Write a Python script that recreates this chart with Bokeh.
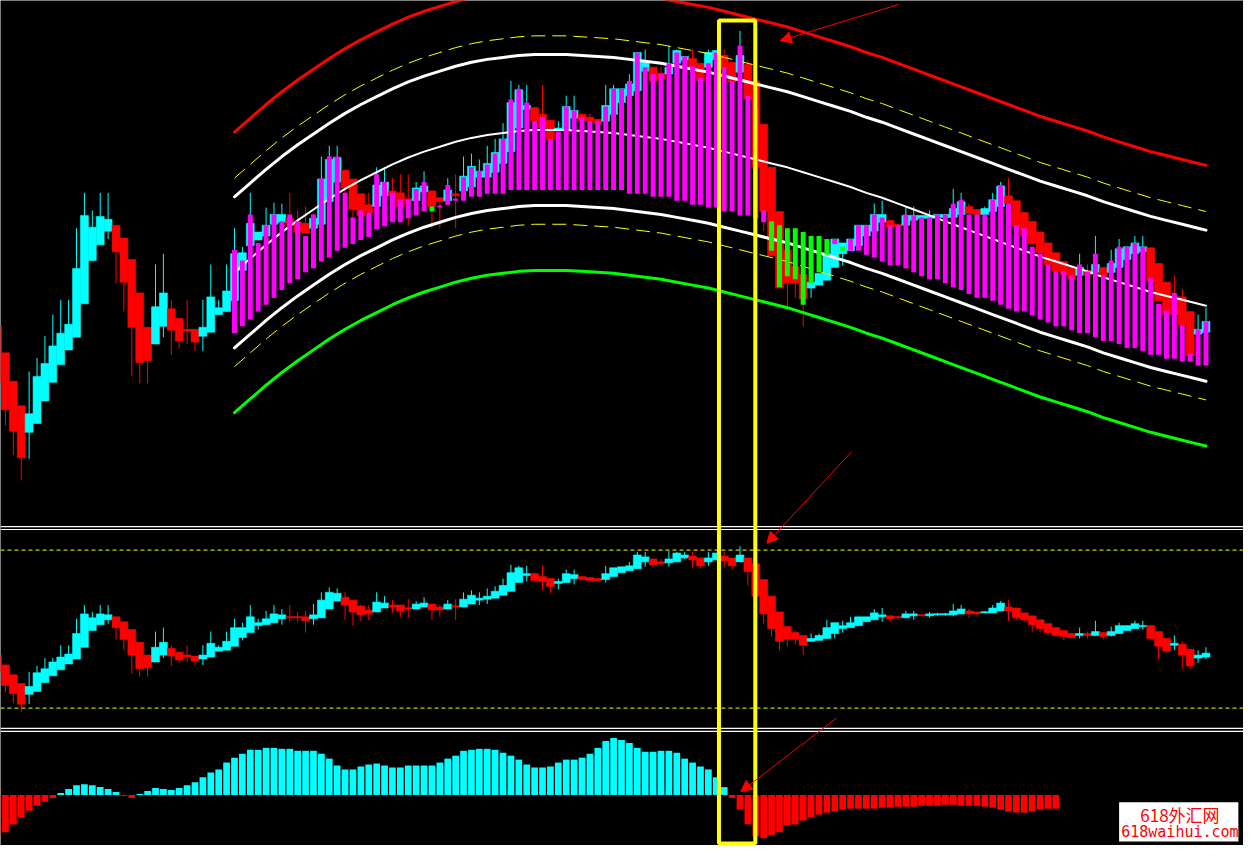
import numpy as np
from bokeh.plotting import figure
from bokeh.models import (Range1d, Span, BoxAnnotation, Arrow, NormalHead,
                          ColumnDataSource, Label)
from bokeh.embed import file_html
from bokeh.resources import INLINE

# ---------------- data ----------------
FIRST_BAR = -1

# Heiken-Ashi style candles of the price panel (bars -1 .. 152)
ha_open = [
    208, 181, 152, 127, 100, 109, 132, 151, 169, 184,
    197, 231, 275, 291, 305, 311, 298, 276, 242, 207,
    190, 208, 226, 216, 205, 205, 198, 202, 220, 223,
    234, 265, 290, 296, 300, 312, 314, 318, 314, 313,
    308, 312, 335, 355, 367, 358, 343, 332, 330, 341,
    346, 344, 338, 336, 345, 346, 339, 336, 343, 346,
    350, 360, 360, 365, 374, 386, 410, 429, 431, 424,
    418, 407, 407, 420, 424, 421, 419, 417, 424, 436,
    443, 448, 468, 472, 466, 465, 476, 479, 481, 476,
    472, 480, 484, 477, 467, 475, 458, 414, 370, 325,
    286, 269, 261, 247, 250, 255, 268, 282, 285, 290,
    300, 305, 314, 316, 312, 311, 316, 318, 318, 319,
    319, 319, 322, 330, 327, 322, 325, 330, 341, 336,
    324, 315, 304, 293, 283, 274, 268, 260, 265, 263,
    268, 263, 268, 276, 282, 284, 288, 272, 253, 237,
    238, 223, 200, 202]
ha_close = [
    151, 123, 101, 74, 119, 157, 170, 188, 201, 210,
    267, 321, 309, 320, 317, 284, 253, 207, 171, 173,
    228, 242, 204, 193, 203, 192, 207, 238, 227, 244,
    282, 283, 313, 304, 311, 322, 322, 311, 304, 303,
    318, 358, 378, 380, 349, 327, 321, 324, 352, 355,
    341, 330, 336, 349, 351, 330, 335, 347, 341, 361,
    371, 366, 374, 385, 399, 436, 449, 433, 417, 410,
    398, 410, 432, 428, 418, 417, 415, 433, 450, 450,
    455, 487, 477, 458, 460, 472, 489, 483, 470, 458,
    487, 489, 470, 457, 484, 440, 370, 325, 280, 247,
    252, 252, 236, 253, 262, 282, 297, 293, 297, 311,
    311, 322, 322, 309, 310, 321, 321, 321, 321, 322,
    322, 328, 335, 323, 322, 328, 337, 351, 333, 310,
    300, 292, 283, 271, 264, 261, 256, 268, 260, 271,
    259, 272, 287, 289, 293, 289, 254, 234, 220, 220,
    209, 178, 205, 213]
ha_high = [
    208, 181, 152, 127, 162, 176, 198, 220, 235, 235,
    308, 344, 326, 344, 344, 311, 298, 276, 242, 207,
    271, 282, 235, 216, 235, 205, 235, 271, 235, 271,
    308, 289, 344, 304, 329, 334, 333, 344, 326, 330,
    322, 381, 392, 392, 367, 358, 343, 344, 370, 370,
    359, 363, 363, 355, 366, 346, 339, 359, 363, 381,
    384, 378, 392, 399, 415, 458, 454, 454, 431, 454,
    418, 417, 443, 443, 425, 425, 419, 454, 454, 450,
    465, 487, 490, 472, 472, 494, 490, 483, 490, 476,
    490, 489, 490, 477, 509, 479, 458, 414, 370, 325,
    286, 269, 261, 253, 262, 282, 297, 293, 297, 311,
    311, 333, 336, 316, 312, 330, 330, 321, 326, 322,
    322, 348, 344, 333, 327, 330, 344, 355, 359, 336,
    324, 315, 304, 293, 283, 274, 268, 282, 271, 300,
    268, 286, 297, 289, 300, 300, 288, 272, 253, 260,
    246, 223, 220, 227]
ha_low = [
    151, 107, 77, 51, 73, 109, 132, 151, 169, 184,
    197, 231, 275, 291, 297, 252, 223, 157, 150, 150,
    190, 197, 179, 186, 190, 183, 183, 202, 220, 223,
    234, 265, 290, 296, 300, 312, 314, 311, 304, 303,
    308, 312, 335, 355, 288, 319, 321, 324, 330, 341,
    330, 330, 310, 336, 345, 308, 308, 336, 308, 346,
    350, 360, 360, 365, 374, 386, 410, 429, 417, 410,
    398, 407, 407, 420, 418, 417, 415, 417, 424, 436,
    443, 448, 468, 458, 460, 465, 476, 479, 470, 458,
    472, 480, 470, 457, 467, 440, 370, 305, 280, 247,
    225, 237, 208, 237, 250, 255, 268, 270, 285, 290,
    300, 305, 314, 309, 310, 311, 316, 318, 318, 319,
    319, 319, 322, 323, 322, 322, 325, 330, 333, 310,
    300, 292, 283, 271, 264, 261, 256, 260, 260, 263,
    259, 263, 268, 276, 282, 284, 254, 234, 220, 220,
    209, 178, 200, 202]

# signal bars (magenta / green) for bars 29 .. 152
SIG_FIRST = 29
sig_top = [
    286, 275, 322, 293, 311, 322, 315, 322, 315, 300,
    322, 359, 381, 381, 344, 319, 326, 324, 363, 355,
    344, 337, 337, 348, 355, 330, 331, 352, 338, 360,
    370, 366, 373, 384, 399, 439, 450, 436, 417, 421,
    399, 406, 432, 428, 421, 417, 417, 432, 450, 450,
    458, 487, 472, 465, 465, 476, 487, 483, 473, 461,
    476, 487, 472, 458, 494, 443, 430, 326, 315, 311,
    308, 308, 304, 300, 300, 297, 297, 289, 297, 311,
    311, 322, 319, 311, 311, 322, 321, 319, 319, 322,
    322, 333, 337, 322, 322, 322, 337, 352, 333, 311,
    308, 289, 282, 271, 264, 264, 260, 271, 264, 282,
    260, 275, 289, 289, 293, 289, 257, 231, 224, 242,
    209, 180, 205, 213]
sig_bottom = [
    201, 208, 215, 223, 230, 237, 245, 252, 256, 263,
    267, 274, 278, 285, 288, 292, 296, 299, 307, 310,
    314, 314, 318, 321, 325, 325, 329, 332, 336, 336,
    340, 340, 343, 343, 343, 347, 347, 347, 347, 347,
    347, 347, 347, 347, 347, 347, 347, 347, 347, 347,
    343, 343, 343, 340, 340, 340, 336, 336, 332, 332,
    329, 329, 325, 325, 321, 321, 318, 314, 285, 248,
    259, 256, 230, 252, 263, 281, 292, 285, 285, 285,
    281, 278, 274, 270, 270, 267, 263, 259, 256, 256,
    252, 248, 245, 241, 237, 237, 234, 230, 226, 223,
    223, 219, 215, 212, 208, 208, 204, 201, 201, 197,
    193, 193, 190, 186, 186, 183, 179, 179, 175, 175,
    172, 172, 168, 168]
sig_green_bars = [54, 97, 98, 99, 100, 101, 102, 103, 104, 106]

# polynomial regression channel: centre line and band half-widths
reg_bars = [29, 31, 33, 35, 37, 39, 41, 43, 45, 47, 49, 51, 53, 55, 57, 59, 61, 63,
            65, 67, 69, 71, 73, 75, 77, 79, 81, 83, 85, 87, 89, 91, 93, 95, 97, 99,
            101, 103, 105, 107, 109, 111, 113, 115, 117, 119, 121, 123, 125, 127,
            129, 131, 133, 135, 137, 139, 141, 143, 145, 147, 149, 151, 152]
reg_mid = [263, 277, 291, 304, 316, 327, 338, 348, 357, 365, 373, 380, 386, 391, 396, 400, 403, 405,
           407, 408, 408, 408, 407, 406, 405, 403, 401, 399, 396, 393, 390, 386, 382, 378, 374, 370,
           365, 360, 355, 350, 344, 339, 333, 327, 321, 315, 309, 303, 297, 291,
           285, 279, 274, 269, 264, 258, 253, 248, 243, 239, 235, 231, 229]
band_inner, band_dashed, band_outer = 77, 96, 143

# oscillator panel candles (bars -1 .. 152)
osc_open = [
    75, 65, 55, 46, 35, 38, 47, 54, 60, 66,
    71, 83, 100, 106, 111, 114, 109, 101, 88, 75,
    68, 75, 82, 78, 75, 74, 71, 73, 79, 80,
    84, 93, 98, 105, 106, 108, 112, 114, 114, 114,
    112, 113, 122, 130, 134, 131, 125, 121, 119, 123,
    126, 126, 123, 122, 124, 127, 124, 122, 125, 124,
    127, 131, 132, 133, 136, 140, 149, 156, 158, 155,
    153, 148, 149, 153, 155, 154, 153, 152, 155, 159,
    161, 163, 170, 173, 170, 169, 170, 174, 176, 174,
    170, 172, 176, 174, 170, 174, 168, 152, 135, 119,
    104, 98, 95, 89, 90, 92, 97, 102, 103, 105,
    109, 111, 114, 115, 114, 113, 115, 116, 115, 116,
    116, 116, 117, 120, 119, 118, 118, 120, 124, 123,
    118, 115, 111, 107, 103, 100, 97, 95, 97, 95,
    98, 95, 97, 100, 102, 104, 105, 99, 92, 85,
    86, 81, 72, 73]
osc_close = [
    58, 44, 36, 25, 43, 57, 61, 68, 73, 76,
    97, 117, 113, 117, 116, 103, 91, 75, 61, 62,
    83, 88, 74, 70, 73, 69, 75, 87, 83, 89,
    103, 103, 114, 108, 112, 117, 116, 113, 113, 110,
    116, 131, 139, 138, 126, 119, 116, 117, 129, 128,
    124, 120, 122, 127, 128, 121, 121, 127, 124, 132,
    136, 133, 135, 140, 146, 159, 164, 158, 151, 150,
    145, 150, 158, 157, 152, 151, 151, 158, 164, 165,
    166, 177, 175, 167, 168, 173, 179, 177, 172, 166,
    174, 179, 171, 166, 177, 160, 135, 117, 102, 89,
    91, 91, 85, 92, 95, 103, 108, 105, 108, 114,
    114, 118, 116, 112, 113, 117, 117, 115, 117, 117,
    117, 120, 122, 117, 117, 119, 123, 128, 120, 113,
    111, 106, 102, 98, 95, 94, 93, 97, 95, 99,
    94, 99, 105, 105, 107, 105, 92, 84, 79, 87,
    75, 64, 75, 77]
osc_high = [
    75, 65, 55, 46, 58, 64, 72, 72, 85, 85,
    112, 126, 119, 126, 126, 114, 109, 101, 88, 75,
    99, 103, 85, 78, 85, 74, 85, 99, 85, 99,
    112, 108, 126, 112, 120, 126, 122, 126, 119, 120,
    127, 139, 144, 143, 139, 131, 126, 126, 139, 135,
    131, 126, 132, 130, 134, 127, 126, 131, 132, 139,
    141, 139, 143, 145, 153, 167, 166, 166, 158, 166,
    153, 153, 162, 162, 155, 154, 153, 166, 164, 165,
    170, 180, 180, 173, 173, 181, 180, 180, 180, 174,
    180, 179, 180, 174, 186, 174, 168, 152, 135, 119,
    104, 100, 95, 97, 97, 111, 108, 110, 114, 114,
    114, 122, 123, 115, 115, 120, 120, 116, 119, 118,
    118, 127, 126, 122, 119, 120, 126, 130, 131, 123,
    118, 115, 111, 107, 103, 100, 97, 103, 99, 110,
    98, 104, 108, 105, 110, 110, 105, 99, 92, 95,
    89, 81, 80, 83]
osc_low = [
    58, 37, 26, 17, 25, 38, 47, 54, 60, 66,
    71, 83, 100, 106, 107, 91, 80, 56, 53, 53,
    68, 72, 64, 67, 68, 65, 65, 73, 79, 80,
    84, 90, 98, 101, 106, 108, 106, 109, 109, 98,
    106, 113, 122, 130, 111, 105, 110, 111, 119, 123,
    118, 114, 113, 122, 124, 111, 114, 122, 111, 124,
    127, 126, 127, 133, 136, 140, 149, 150, 151, 141,
    138, 142, 149, 147, 152, 150, 151, 149, 155, 159,
    161, 163, 165, 165, 166, 165, 170, 173, 164, 164,
    166, 172, 164, 162, 170, 146, 135, 107, 94, 80,
    84, 86, 75, 89, 90, 92, 92, 98, 103, 105,
    109, 111, 109, 109, 111, 113, 111, 115, 113, 115,
    115, 115, 117, 113, 116, 118, 118, 120, 110, 111,
    109, 99, 98, 95, 94, 90, 92, 92, 92, 95,
    91, 94, 97, 100, 102, 101, 91, 71, 78, 80,
    61, 61, 67, 71]
osc_levels = [182, 21]

# histogram panel (bars -1 .. 133)
hist_values = [
    -42, -38, -30, -23, -16, -11, -7, -3, 2, 6,
    10, 11, 10, 8, 6, 3, -1, -3, 1, 4,
    7, 6, 5, 7, 10, 13, 18, 23, 26, 33,
    38, 42, 46, 46, 48, 48, 47, 47, 45, 45,
    45, 42, 37, 30, 26, 26, 29, 31, 32, 30,
    28, 28, 30, 30, 30, 30, 33, 37, 40, 45,
    46, 47, 47, 46, 43, 40, 36, 31, 28, 28,
    29, 33, 36, 36, 38, 42, 48, 55, 58, 56,
    53, 48, 44, 44, 45, 45, 43, 37, 33, 29,
    26, 18, 8, -3, -15, -30, -42, -44, -41, -38,
    -31, -30, -26, -23, -20, -18, -17, -15, -14, -14,
    -14, -14, -13, -13, -12, -12, -12, -11, -11, -11,
    -10, -10, -11, -11, -11, -12, -13, -15, -17, -18,
    -18, -17, -15, -14, -14]

# ---------------- styling ----------------
CYAN, RED, MAGENTA, LIME = "#00FFFF", "#FF0000", "#FF00FF", "#00FF00"
WHITE, YELLOW = "#FFFFFF", "#FFFF00"

p = figure(width=1243, height=845, output_backend="svg", toolbar_location=None,
           x_range=Range1d(-0.625, 156.75), y_range=Range1d(-321, 540),
           x_axis_type=None, y_axis_type=None, min_border=0,
           background_fill_color="black", border_fill_color="black",
           outline_line_color=None)
p.grid.visible = False
p.extra_y_ranges = {"osc": Range1d(-119, 742), "hist": Range1d(-51.5, 809.5)}


def draw_candles(o, h, l, c, rng):
    o = np.asarray(o, float)
    c = np.asarray(c, float)
    x = np.arange(FIRST_BAR, FIRST_BAR + len(o))
    col = np.where(c >= o, CYAN, RED)
    bot = np.minimum(o, c)
    top = np.maximum(np.maximum(o, c), bot + 1.2)
    src = ColumnDataSource(dict(x=x, top=top, bottom=bot, high=h, low=l, color=col))
    p.segment(x0="x", y0="high", x1="x", y1="low", line_color="color",
              line_width=1, source=src, y_range_name=rng)
    p.vbar(x="x", width=1.0, top="top", bottom="bottom", fill_color="color",
           line_color="color", line_width=0.6, source=src, y_range_name=rng)


# ---- price panel ----
draw_candles(ha_open, ha_high, ha_low, ha_close, "default")

mid = np.asarray(reg_mid, float)
curve_kw = dict(line_join="round", line_cap="round")
p.line(reg_bars, mid + band_outer, line_color=RED, line_width=3, **curve_kw)
p.line(reg_bars, mid - band_outer, line_color=LIME, line_width=3, **curve_kw)
p.line(reg_bars, mid + band_dashed, line_color=YELLOW, line_width=1, line_dash="14 7")
p.line(reg_bars, mid - band_dashed, line_color=YELLOW, line_width=1, line_dash="14 7")
p.line(reg_bars, mid + band_inner, line_color=WHITE, line_width=3, **curve_kw)
p.line(reg_bars, mid - band_inner, line_color=WHITE, line_width=3, **curve_kw)
p.line(reg_bars, mid, line_color=WHITE, line_width=2, **curve_kw)

sig_x = np.arange(SIG_FIRST, SIG_FIRST + len(sig_top))
sig_col = [LIME if b in sig_green_bars else MAGENTA for b in sig_x]
p.vbar(x=sig_x, width=0.625, top=sig_top, bottom=sig_bottom,
       fill_color=sig_col, line_color=None)

# ---- oscillator panel ----
for lv in osc_levels:
    p.add_layout(Span(location=lv, dimension="width", y_range_name="osc",
                      line_color=YELLOW, line_width=1, line_dash="4 3"))
draw_candles(osc_open, osc_high, osc_low, osc_close, "osc")

# panel separators (double white lines)
for loc in (206.0, 203.0, 0.3, -2.7):
    p.add_layout(Span(location=loc, dimension="width", y_range_name="osc",
                      line_color=WHITE, line_width=1.2))

# ---- histogram panel ----
hv = np.asarray(hist_values, float)
hx = np.arange(FIRST_BAR, FIRST_BAR + len(hv))
p.vbar(x=hx, width=0.85, top=np.maximum(hv, 0), bottom=np.minimum(hv, 0),
       fill_color=np.where(hv > 0, CYAN, RED), line_color=None,
       y_range_name="hist")

# ---- highlight box and arrows ----
p.add_layout(BoxAnnotation(left=90.34, right=94.94, top=519.5, bottom=-319,
                           fill_alpha=0, line_color=YELLOW, line_alpha=1,
                           line_width=4))

for xs, ys, xe, ye, rng in [(113.1, 536, 98.1, 499, "default"),
                            (107.1, 80, 96.4, -13, "default"),
                            (105.25, 78.5, 93.1, 3.5, "hist")]:
    p.add_layout(Arrow(end=NormalHead(size=11, fill_color=RED, line_color=RED),
                       x_start=xs, y_start=ys, x_end=xe, y_end=ye,
                       line_color=RED, line_width=1, y_range_name=rng))

# ---- watermark ----
p.add_layout(BoxAnnotation(left=141.0, right=156.1, top=-7.5, bottom=-47.5,
                           y_range_name="hist", fill_color=WHITE, fill_alpha=1,
                           line_color=None))
p.add_layout(Label(x=148.7, y=-19.5, y_range_name="hist", text="618外汇网",
                   text_align="center", text_baseline="middle",
                   text_font="Noto Sans CJK SC", text_font_size="17px",
                   text_color=RED))
p.add_layout(Label(x=148.7, y=-37.5, y_range_name="hist", text="618waihui.com",
                   text_align="center", text_baseline="middle",
                   text_font="DejaVu Sans Mono", text_font_size="15px",
                   text_color=RED))

open("out.html", "w").write(file_html(p, INLINE, title="chart"))
